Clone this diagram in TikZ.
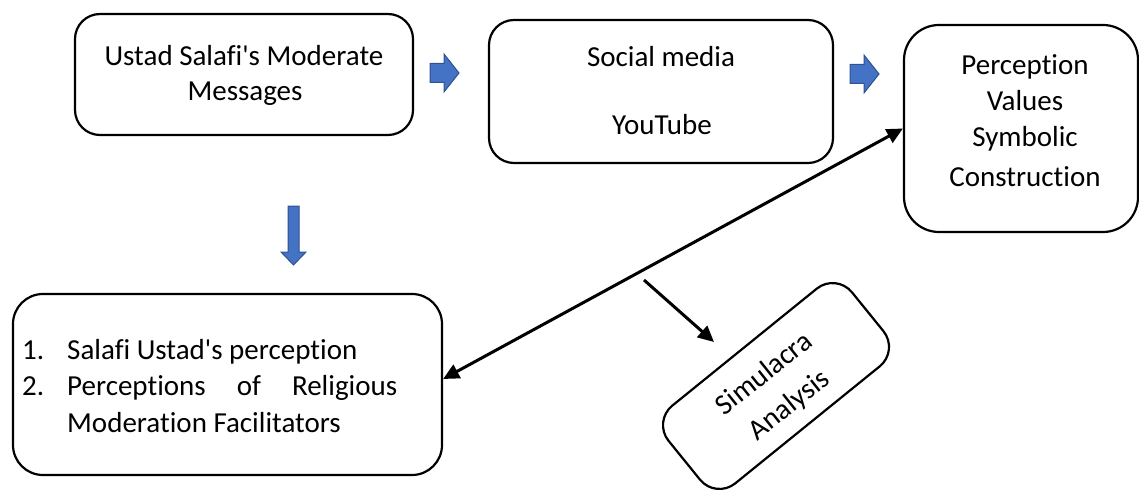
\documentclass[tikz,border=0pt]{standalone}
\usepackage{fontspec}
\setmainfont{Carlito}[Ligatures={TeXOff,CommonOff,ContextualOff,RareOff}]
\usetikzlibrary{arrows.meta}
\definecolor{arrowfill}{HTML}{4472C4}
\definecolor{arrowline}{HTML}{2F528F}
\begin{document}
\begin{tikzpicture}[x=1pt,y=-1pt,
  box/.style={draw=black,line width=2.2pt,fill=none,inner sep=0pt},
  txt/.style={inner sep=0pt,font=\fontsize{29}{35}\selectfont},
  link/.style={line width=3pt,-{Triangle[length=16pt,width=15pt]}},
  dbllink/.style={line width=3pt,{Triangle[length=16pt,width=15pt]}-{Triangle[length=16pt,width=15pt]}},
  blockarrow/.style={fill=arrowfill,draw=arrowline,line width=1pt,line join=miter},
  rarrow/.pic={\path[blockarrow] (0,-9.5) -- (14,-9.5) -- (14,-19) -- (29,0) -- (14,19) -- (14,9.5) -- (0,9.5) -- cycle;},
  darrow/.pic={\path[blockarrow] (-5.5,0) -- (-5.5,46) -- (-12.5,46) -- (0,59) -- (12.5,46) -- (5.5,46) -- (5.5,0) -- cycle;}
]
\useasboundingbox (0,0) rectangle (1139,497);

% boxes
\node[box,rounded corners=25pt,minimum width=338pt,minimum height=121pt] (msg) at (244,74.5) {};
\node[box,rounded corners=25pt,minimum width=344pt,minimum height=143pt] (media) at (661,91.5) {};
\node[box,rounded corners=35pt,minimum width=234pt,minimum height=207pt] (perc) at (1021,128.5) {};
\node[box,rounded corners=30pt,minimum width=429pt,minimum height=181pt] (views) at (227.5,384.5) {};
\node[box,rounded corners=25pt,minimum width=236pt,minimum height=100pt,rotate=39] (sim) at (776,386) {};

% box texts
\node[txt,anchor=base] (msg1) at (244,66) {Ustad Salafi's Moderate};
\node[txt,anchor=base] (msg2) at (245,101) {Messages};
\node[txt,anchor=base] (media1) at (661,67) {Social media};
\node[txt,anchor=base] (media2) at (662,135) {YouTube};
\node[txt,anchor=base] (perc1) at (1025,75) {Perception};
\node[txt,anchor=base] (perc2) at (1025,111) {Values};
\node[txt,anchor=base] (perc3) at (1025,147) {Symbolic};
\node[txt,anchor=base] (perc4) at (1025,186) {Construction};
\node[txt,anchor=base west] (num1) at (22,359) {1.};
\node[txt,anchor=base west] (views1) at (67,359) {Salafi Ustad's perception};
\node[txt,anchor=base west] (num2) at (22,395) {2.};
\node[txt,anchor=base west] (views2) at (67,395) {\makebox[330pt][s]{Perceptions\hfill of\hfill Religious}};
\node[txt,anchor=base west] (views3) at (67,432) {Moderation Facilitators};
\node[txt,align=center,rotate=38.5,font=\fontsize{29}{40}\selectfont] (simtxt) at (777,390) {Simulacra\\Analysis};

% block arrows
\pic (ra1) at (430,73) {rarrow};
\pic (ra2) at (850,74) {rarrow};
\pic (da1) at (293.5,206) {darrow};

% connectors
\draw[dbllink] ([yshift=5.5pt]views.east) -- (perc.west);
\coordinate (simfrom) at (644,280);
\coordinate (simto) at (714,342);
\draw[link] (simfrom) -- (simto);
\end{tikzpicture}
\end{document}
